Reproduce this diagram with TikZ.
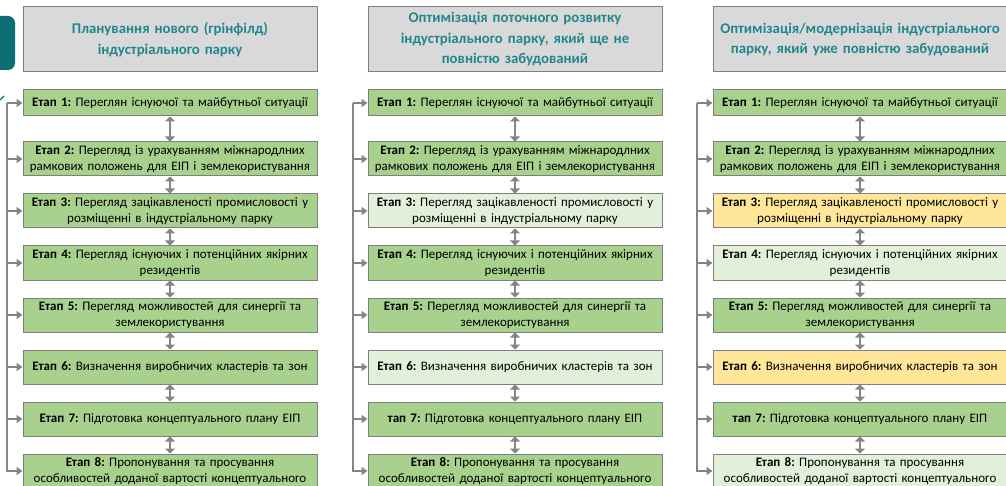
\documentclass[tikz,border=0pt]{standalone}
\usepackage{fontspec}
\setmainfont{Carlito}
\usetikzlibrary{arrows.meta, positioning}
\definecolor{headgray}{HTML}{D9D9D9}
\definecolor{framegray}{HTML}{7F7F7F}
\definecolor{tabteal}{HTML}{0B6E74}
\definecolor{titleteal}{HTML}{23868E}
\definecolor{stagegreen}{HTML}{A9D18E}
\definecolor{stagelight}{HTML}{E2F0D9}
\definecolor{stageorange}{HTML}{FFE699}
\definecolor{arrowgray}{HTML}{858585}
\frenchspacing

\begin{document}
\begin{tikzpicture}[x=1pt, y=1pt,
  header/.style={rectangle, draw=framegray, fill=headgray, line width=1pt, minimum width=294pt, minimum height=65pt, text width=292pt, align=center, inner sep=0pt, text=titleteal, font=\fontsize{14.8}{20.5}\selectfont\bfseries},
  stage/.style={rectangle, draw=framegray, fill=stagegreen, line width=1pt, minimum width=294pt, minimum height=34pt, text width=292pt, align=center, inner sep=0pt, font=\fontsize{13}{16.5}\selectfont},
  stagelt/.style={stage, fill=stagelight},
  stageor/.style={stage, fill=stageorange},
  link/.style={draw=arrowgray, line width=2pt, {Triangle[width=10pt,length=5pt]}-{Triangle[width=10pt,length=5pt]}},
  rail/.style={draw=arrowgray, line width=2pt, -{Triangle[width=8pt,length=6pt]}}
]
\useasboundingbox (0,0) rectangle (1006,-486);
% teal tab cut by the left edge
\fill[tabteal, rounded corners=7pt] (-20,-16) rectangle (15,-70);
\draw[tabteal, line width=1.2pt] (0,-100) -- (4,-96);

% headers
\node[header] (headA) at (170,-39.5) {Планування нового (грінфілд)\\індустріального парку};
\node[header] (headB) at (515,-39.5) {Оптимізація поточного розвитку\\індустріального парку, який ще не\\повністю забудований};
\node[header] (headC) at (860,-39.5) {Оптимізація/модернізація індустріального\\парку, який уже повністю забудований};

% column A: greenfield
\node[stage, minimum height=26pt] (a1) at (170,-103) {\textbf{Етап 1:} Переглян існуючої та майбутньої ситуації};
\node[stage] (a2) at (170,-159) {\textbf{Етап 2:} Перегляд із урахуванням міжнародлних\\рамкових положень для ЕІП і землекористування};
\node[stage] (a3) at (170,-211) {\textbf{Етап 3:} Перегляд зацікавленості промисловості у\\розміщенні в індустріальному парку};
\node[stage] (a4) at (170,-263) {\textbf{Етап 4:} Перегляд існуючих і потенційних якірних\\резидентів};
\node[stage] (a5) at (170,-315) {\textbf{Етап 5:} Перегляд можливостей для синергії та\\землекористування};
\node[stage] (a6) at (170,-367) {\textbf{Етап 6:} Визначення виробничих кластерів та зон};
\node[stage] (a7) at (170,-419) {\textbf{Етап 7:} Підготовка концептуального плану ЕІП};
\node[stage] (a8) at (170,-471) {\textbf{Етап 8:} Пропонування та просування\\особливостей доданої вартості концептуального};

% column B: park not yet built up
\node[stage, minimum height=26pt] (b1) at (515,-103) {\textbf{Етап 1:} Переглян існуючої та майбутньої ситуації};
\node[stage] (b2) at (515,-159) {\textbf{Етап 2:} Перегляд із урахуванням міжнародлних\\рамкових положень для ЕІП і землекористування};
\node[stagelt] (b3) at (515,-211) {\textbf{Етап 3:} Перегляд зацікавленості промисловості у\\розміщенні в індустріальному парку};
\node[stage] (b4) at (515,-263) {\textbf{Етап 4:} Перегляд існуючих і потенційних якірних\\резидентів};
\node[stage] (b5) at (515,-315) {\textbf{Етап 5:} Перегляд можливостей для синергії та\\землекористування};
\node[stagelt] (b6) at (515,-367) {\textbf{Етап 6:} Визначення виробничих кластерів та зон};
\node[stage] (b7) at (515,-419) {\textbf{тап 7:} Підготовка концептуального плану ЕІП};
\node[stage] (b8) at (515,-471) {\textbf{Етап 8:} Пропонування та просування\\особливостей доданої вартості концептуального};

% column C: park fully built up
\node[stage, minimum height=26pt] (c1) at (860,-103) {\textbf{Етап 1:} Переглян існуючої та майбутньої ситуації};
\node[stage] (c2) at (860,-159) {\textbf{Етап 2:} Перегляд із урахуванням міжнародлних\\рамкових положень для ЕІП і землекористування};
\node[stageor] (c3) at (860,-211) {\textbf{Етап 3:} Перегляд зацікавленості промисловості у\\розміщенні в індустріальному парку};
\node[stagelt] (c4) at (860,-263) {\textbf{Етап 4:} Перегляд існуючих і потенційних якірних\\резидентів};
\node[stage] (c5) at (860,-315) {\textbf{Етап 5:} Перегляд можливостей для синергії та\\землекористування};
\node[stageor] (c6) at (860,-367) {\textbf{Етап 6:} Визначення виробничих кластерів та зон};
\node[stage] (c7) at (860,-419) {\textbf{тап 7:} Підготовка концептуального плану ЕІП};
\node[stagelt] (c8) at (860,-471) {\textbf{Етап 8:} Пропонування та просування\\особливостей доданої вартості концептуального};

% side rails
\coordinate (railA) at (7,-103);
\coordinate (railB) at (353,-103);
\coordinate (railC) at (697,-103);
\foreach \c/\r in {a/railA, b/railB, c/railC} {
  \draw[rail] (\r) |- (\c8.west);
  \foreach \k in {1,...,7}
    \draw[rail] (\r |- \c\k.west) -- (\c\k.west);
}

% links between stages
\foreach \c in {a,b,c}
  \foreach \k/\m in {1/2, 2/3, 3/4, 4/5, 5/6, 6/7, 7/8}
    \draw[link] (\c\k.south) -- (\c\m.north);
\end{tikzpicture}
\end{document}
